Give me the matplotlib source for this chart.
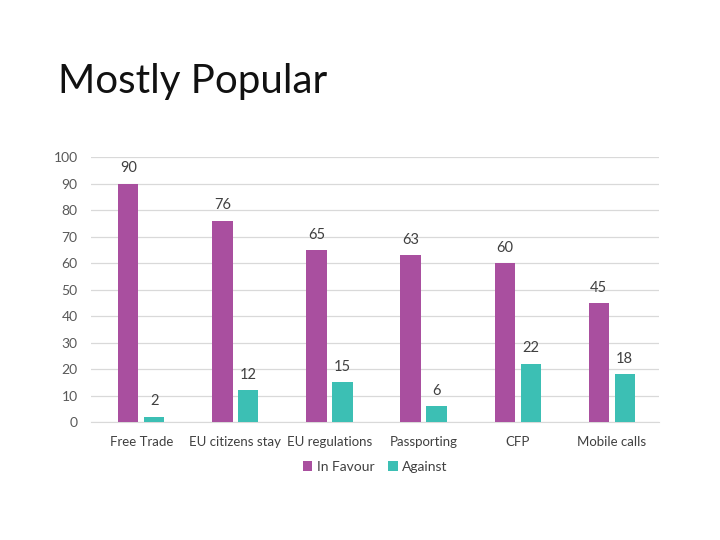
import numpy as np
import matplotlib.pyplot as plt

categories = ['Free Trade', 'EU citizens stay', 'EU regulations', 'Passporting', 'CFP', 'Mobile calls']
in_favour = [90, 76, 65, 63, 60, 45]
against = [2, 12, 15, 6, 22, 18]

purple = '#A94F9F'
teal = '#3CBFB4'

plt.rcParams['font.family'] = ['Lato', 'DejaVu Sans']

fig = plt.figure(figsize=(7.2, 5.4), dpi=100)
fig.text(0.08, 0.85, 'Mostly Popular', fontsize=29, color='#111111',
         fontweight='normal', va='center')

ax = fig.add_axes([0.127, 0.2185, 0.788, 0.4905])
x = np.arange(len(categories))
w = 0.215
b1 = ax.bar(x - 0.138, in_favour, w, color=purple, label='In Favour', zorder=3)
b2 = ax.bar(x + 0.138, against, w, color=teal, label='Against', zorder=3)

for bars, vals in [(b1, in_favour), (b2, against)]:
    for rect, v in zip(bars, vals):
        ax.annotate(str(v), (rect.get_x() + rect.get_width() / 2, v),
                    xytext=(0, 11), textcoords='offset points',
                    ha='center', va='center', fontsize=10.5, color='#404040')

ax.set_xlim(-0.53, 5.5)
ax.set_ylim(0, 100)
ax.set_yticks(range(0, 101, 10))
ax.grid(axis='y', color='#D9D9D9', linewidth=0.9, zorder=0)
for s in ['top', 'right', 'left']:
    ax.spines[s].set_visible(False)
ax.spines['bottom'].set_color('#D9D9D9')
ax.tick_params(axis='both', length=0)
ax.tick_params(axis='y', labelsize=10, labelcolor='#595959', pad=10)
ax.tick_params(axis='x', labelsize=9.5, labelcolor='#404040', pad=10)
ax.set_xticks(x)
ax.set_xticklabels(categories)

ax.legend(loc='upper center', bbox_to_anchor=(0.5, -0.1), ncol=2, frameon=False,
          fontsize=10, handlelength=0.7, handleheight=0.7, handletextpad=0.3,
          columnspacing=1.0, labelcolor='#404040')

fig.savefig('out.png', dpi=100)
